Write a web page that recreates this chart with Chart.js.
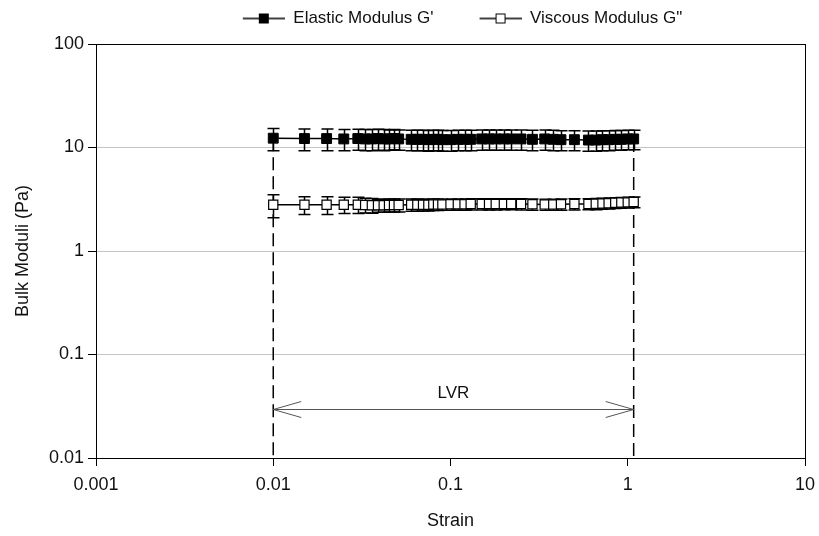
<!DOCTYPE html>
<html>
<head>
<meta charset="utf-8">
<script src="https://cdn.jsdelivr.net/npm/chart.js@4"></script>
<style>
  body { margin: 0; background: #fff; }
  #wrap { width: 819px; height: 536px; }
</style>
</head>
<body>
<div id="wrap"><canvas id="chart" width="819" height="536"></canvas></div>
<script>
const strain = [0.01, 0.015, 0.02, 0.025, 0.03, 0.033, 0.036, 0.039, 0.042, 0.045, 0.048, 0.051,
	0.06, 0.065, 0.07, 0.075, 0.08, 0.085, 0.09, 0.1, 0.11, 0.12, 0.13, 0.15, 0.165, 0.18, 0.2,
	0.22, 0.25, 0.29, 0.34, 0.38, 0.42, 0.5, 0.6, 0.66, 0.72, 0.78, 0.85, 0.92, 1.0, 1.08];
const elastic = [12.3, 12.2, 12.2, 12.1, 12.2, 12.1, 12.1, 12.2, 12.1, 12.1, 12.2, 12.1,
	12.0, 12.0, 12.0, 11.9, 12.0, 12.0, 11.9, 11.9, 12.0, 12.0, 12.0, 12.1, 12.1, 12.1, 12.1,
	12.1, 12.1, 12.0, 12.1, 12.0, 11.9, 11.9, 11.8, 11.8, 11.9, 11.9, 12.0, 12.0, 12.1, 12.1];
const elasticErr = [3.0, 2.9, 2.9, 2.8, 2.8, 2.8, 2.8, 2.8, 2.8, 2.7, 2.7, 2.7,
	2.7, 2.7, 2.7, 2.7, 2.7, 2.7, 2.7, 2.7, 2.7, 2.7, 2.7, 2.7, 2.7, 2.7, 2.7,
	2.7, 2.7, 2.7, 2.7, 2.7, 2.6, 2.6, 2.6, 2.6, 2.6, 2.6, 2.6, 2.6, 2.6, 2.6];
const viscous = [2.8, 2.8, 2.8, 2.8, 2.8, 2.78, 2.77, 2.77, 2.77, 2.78, 2.78, 2.78,
	2.8, 2.8, 2.8, 2.8, 2.82, 2.82, 2.82, 2.83, 2.83, 2.83, 2.84, 2.84, 2.84, 2.84, 2.85,
	2.85, 2.84, 2.83, 2.82, 2.82, 2.83, 2.84, 2.85, 2.86, 2.88, 2.9, 2.92, 2.94, 2.95, 2.97];
const viscousErr = [0.7, 0.55, 0.55, 0.5, 0.5, 0.45, 0.45, 0.4, 0.4, 0.4, 0.4, 0.4,
	0.38, 0.38, 0.36, 0.36, 0.36, 0.36, 0.35, 0.35, 0.35, 0.35, 0.35, 0.35, 0.35, 0.35, 0.35,
	0.35, 0.35, 0.35, 0.35, 0.35, 0.35, 0.35, 0.35, 0.35, 0.35, 0.35, 0.35, 0.35, 0.35, 0.35];
const xTicks = [0.001, 0.01, 0.1, 1, 10];
const yTicks = [0.01, 0.1, 1, 10, 100];
const yGrid = [0.1, 1, 10];
const lvrRange = [0.01, 1.08];
const lvrLevel = 0.03;
const lvrText = 'LVR';

const FONT = "'Liberation Sans', Arial, sans-serif";
const TEXT = '#111';
const ICON_W = 78;

// legend icon: blank on the left (acts as item gap), then line with square marker
function legendIcon(filled) {
	const c = document.createElement('canvas');
	c.width = ICON_W; c.height = 12;
	const g = c.getContext('2d');
	const x0 = ICON_W - 42;
	g.strokeStyle = '#000';
	g.lineWidth = 1.5;
	g.beginPath(); g.moveTo(x0, 6); g.lineTo(ICON_W, 6); g.stroke();
	g.fillStyle = filled ? '#000' : '#fff';
	g.lineWidth = 1;
	g.fillRect(x0 + 16.5, 1.5, 9, 9);
	g.strokeRect(x0 + 16.5, 1.5, 9, 9);
	return c;
}
const icons = [legendIcon(true), legendIcon(false)];

const pts = (ys) => strain.map((x, i) => ({ x: x, y: ys[i] }));

// nudge the legend row to where the original sits
const legendShift = {
	id: 'legendShift',
	afterLayout(chart) {
		const lg = chart.legend;
		if (!lg) return;
		lg.left += 42; lg.right += 42;
		lg.top -= 7; lg.bottom -= 7;
	}
};

const errorBars = {
	id: 'errorBars',
	beforeDatasetsDraw(chart) {
		const xs = chart.scales.x, ys = chart.scales.y, ctx = chart.ctx;
		ctx.save();
		ctx.strokeStyle = '#000';
		ctx.lineWidth = 1.5;
		[[elastic, elasticErr], [viscous, viscousErr]].forEach(([vals, errs]) => {
			strain.forEach((s, i) => {
				const x = Math.round(xs.getPixelForValue(s)) + 0.5;
				const top = ys.getPixelForValue(vals[i] + errs[i]);
				const bot = ys.getPixelForValue(vals[i] - errs[i]);
				ctx.beginPath();
				ctx.moveTo(x, top); ctx.lineTo(x, bot);
				ctx.moveTo(x - 6, top); ctx.lineTo(x + 6, top);
				ctx.moveTo(x - 6, bot); ctx.lineTo(x + 6, bot);
				ctx.stroke();
			});
		});
		ctx.restore();
	},
	afterDatasetsDraw(chart) {
		const xs = chart.scales.x, ys = chart.scales.y, ctx = chart.ctx;
		const a = chart.chartArea;
		ctx.save();
		// frame
		ctx.strokeStyle = '#000';
		ctx.lineWidth = 1;
		ctx.strokeRect(Math.round(a.left) + 0.5, Math.round(a.top) + 0.5, Math.round(a.right - a.left), Math.round(a.bottom - a.top));
		// LVR arrow
		const y = Math.round(ys.getPixelForValue(lvrLevel)) + 0.5;
		const x1 = xs.getPixelForValue(lvrRange[0]);
		const x2 = xs.getPixelForValue(lvrRange[1]);
		ctx.strokeStyle = '#555';
		ctx.beginPath();
		ctx.moveTo(x1, y); ctx.lineTo(x2, y);
		ctx.moveTo(x1 + 28, y - 8); ctx.lineTo(x1, y); ctx.lineTo(x1 + 28, y + 8);
		ctx.moveTo(x2 - 28, y - 8); ctx.lineTo(x2, y); ctx.lineTo(x2 - 28, y + 8);
		ctx.stroke();
		ctx.fillStyle = TEXT;
		ctx.font = '17px ' + FONT;
		ctx.textAlign = 'center';
		ctx.textBaseline = 'middle';
		ctx.fillText(lvrText, xs.getPixelForValue(Math.sqrt(lvrRange[0] * lvrRange[1])), y - 16);
		ctx.restore();
	}
};

const ctx = document.getElementById('chart').getContext('2d');
const myChart = new Chart(ctx, {
	type: 'line',
	data: {
		datasets: [
			{
				label: "Elastic Modulus G'",
				data: pts(elastic),
				borderColor: '#000',
				borderWidth: 1.5,
				pointStyle: 'rect',
				pointRadius: 7,
				pointBackgroundColor: '#000',
				pointBorderColor: '#000',
				pointBorderWidth: 1,
				order: 1,
			},
			{
				label: 'Viscous Modulus G"',
				data: pts(viscous),
				borderColor: '#000',
				borderWidth: 1.5,
				pointStyle: 'rect',
				pointRadius: 6.5,
				pointBackgroundColor: '#fff',
				pointBorderColor: '#000',
				pointBorderWidth: 1.2,
				order: 2,
			},
			{
				label: 'lvr-left',
				data: [{ x: lvrRange[0], y: elastic[0] }, { x: lvrRange[0], y: yTicks[0] }],
				borderColor: '#000',
				borderWidth: 1.5,
				borderDash: [13, 6],
				pointRadius: 0,
				order: 5,
			},
			{
				label: 'lvr-right',
				data: [{ x: lvrRange[1], y: elastic[elastic.length - 1] }, { x: lvrRange[1], y: yTicks[0] }],
				borderColor: '#000',
				borderWidth: 1.5,
				borderDash: [13, 6],
				pointRadius: 0,
				order: 5,
			},
		],
	},
	options: {
		responsive: false,
		animation: false,
		devicePixelRatio: 1,
		layout: { autoPadding: false, padding: { top: 7, right: 14, left: 0, bottom: 0 } },
		plugins: {
			tooltip: { enabled: false },
			legend: {
				position: 'top',
				labels: {
					usePointStyle: true,
					pointStyleWidth: ICON_W,
					padding: 10,
					color: TEXT,
					font: { family: FONT, size: 17 },
					generateLabels(chart) {
						const items = Chart.defaults.plugins.legend.labels.generateLabels(chart);
						return items.filter((it) => it.datasetIndex < 2).map((it) => {
							it.pointStyle = icons[it.datasetIndex];
							return it;
						});
					},
				},
				onClick: null,
			},
		},
		scales: {
			x: {
				type: 'logarithmic',
				min: xTicks[0],
				max: xTicks[xTicks.length - 1],
				afterBuildTicks(scale) { scale.ticks = xTicks.map((v) => ({ value: v })); },
				afterFit(scale) {
					scale.height = 78;
					scale.paddingLeft = 0;
					scale.paddingRight = 0;
				},
				ticks: {
					color: TEXT,
					font: { family: FONT, size: 18 },
					padding: 8,
					maxRotation: 0,
					callback: (v) => String(v),
				},
				grid: { drawOnChartArea: false, tickColor: '#000', tickLength: 8 },
				border: { color: '#000', width: 1 },
				title: {
					display: true,
					text: 'Strain',
					color: TEXT,
					font: { family: FONT, size: 18 },
					padding: { top: 0, bottom: 4 },
				},
			},
			y: {
				type: 'logarithmic',
				min: yTicks[0],
				max: yTicks[yTicks.length - 1],
				afterBuildTicks(scale) { scale.ticks = yTicks.map((v) => ({ value: v })); },
				afterFit(scale) { scale.width = 96; },
				ticks: {
					color: TEXT,
					font: { family: FONT, size: 18 },
					padding: 4,
					callback: (v) => String(v),
				},
				grid: {
					color: (c) => (c.tick && yGrid.includes(c.tick.value) ? '#c4c4c4' : 'rgba(0,0,0,0)'),
					tickColor: '#000',
					tickLength: 8,
				},
				border: { color: '#000', width: 1 },
				title: {
					display: true,
					text: 'Bulk Moduli (Pa)',
					color: TEXT,
					font: { family: FONT, size: 18 },
					padding: { top: 12, bottom: 0 },
				},
			},
		},
	},
	plugins: [errorBars, legendShift],
});
</script>
</body>
</html>
